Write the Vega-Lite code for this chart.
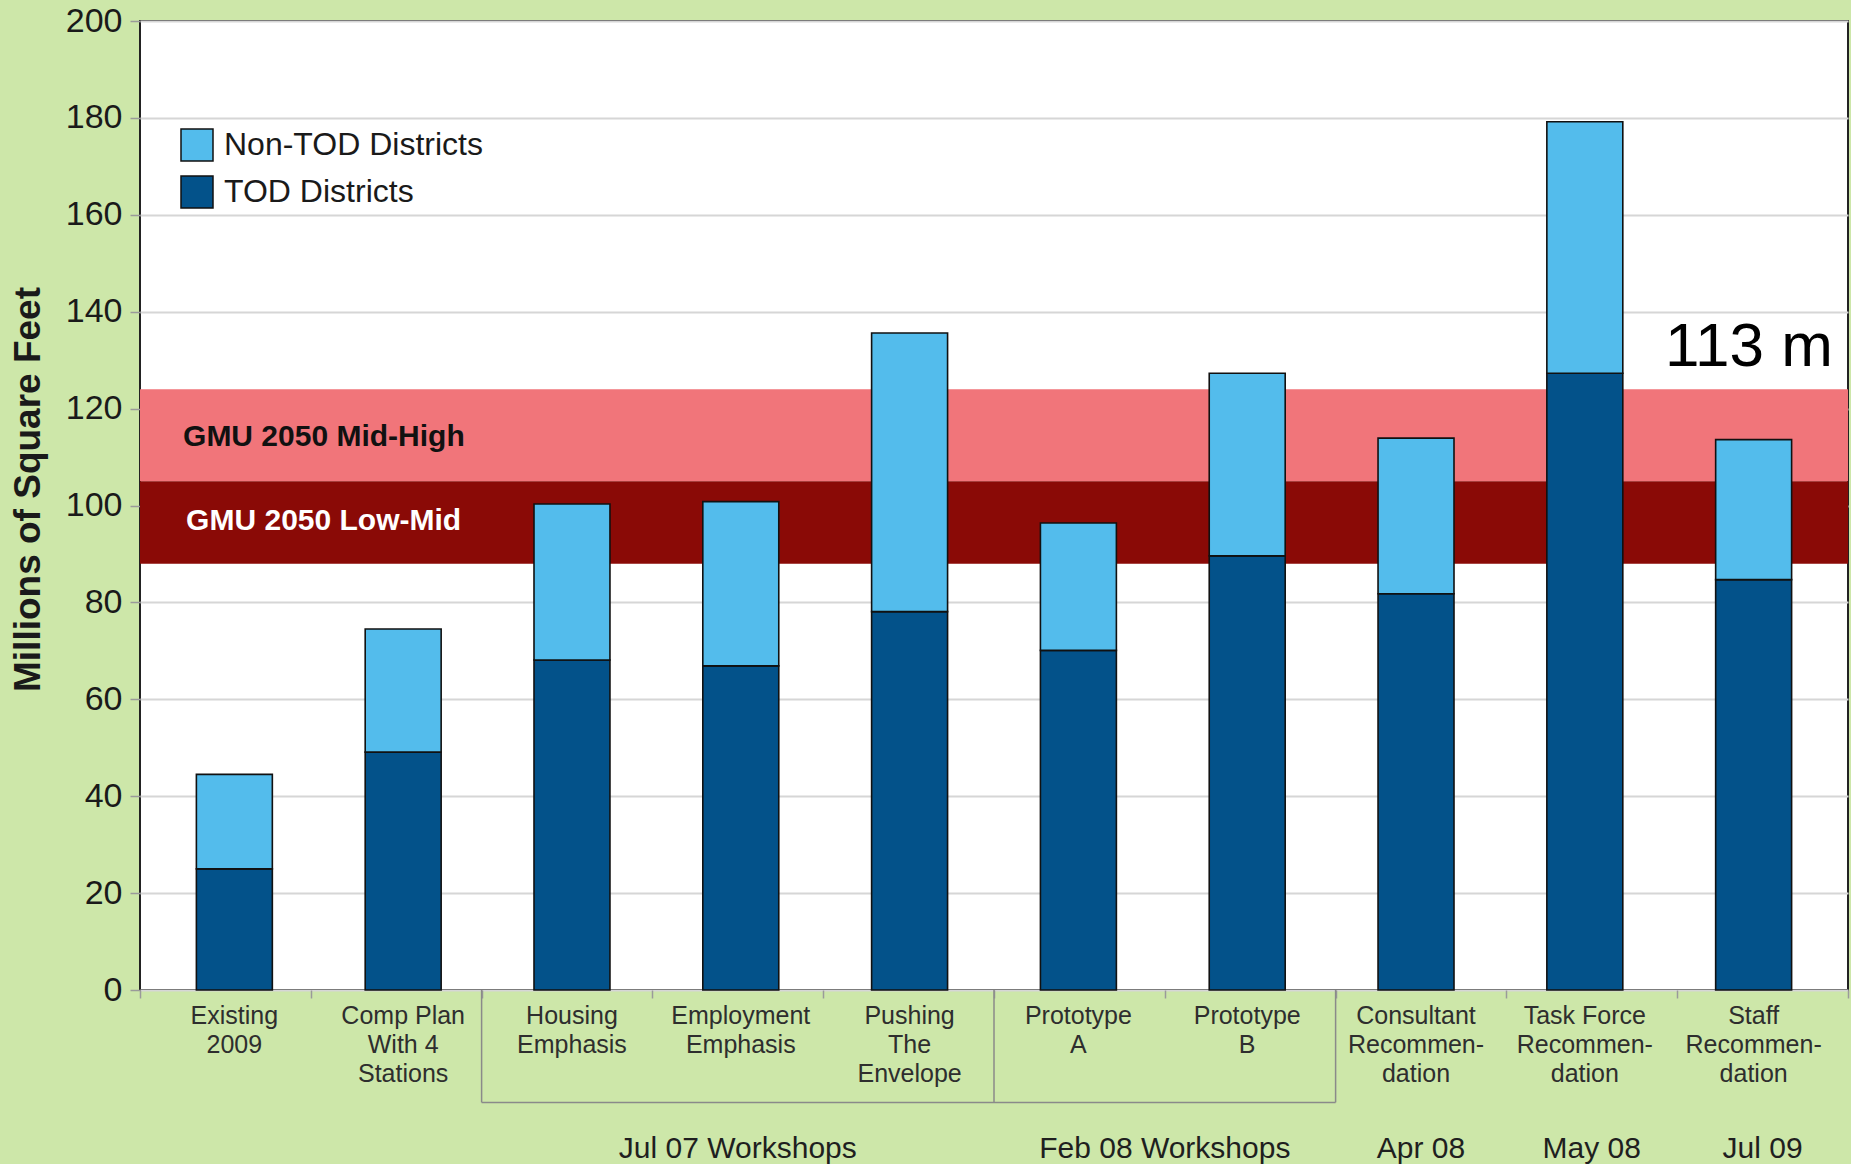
{
  "$schema": "https://vega.github.io/schema/vega-lite/v6.json",
  "width": 1708,
  "height": 969,
  "autosize": {"type": "none"},
  "padding": {"left": 140, "top": 21, "right": 3, "bottom": 174},
  "background": "#cde7a9",
  "config": {
    "font": "Liberation Sans, Arial, sans-serif",
    "view": {"fill": "white", "stroke": "#222222", "strokeWidth": 2},
    "axisY": {
      "grid": true,
      "gridColor": "#d6d6d6",
      "gridWidth": 2,
      "domain": false,
      "tickSize": 10,
      "tickColor": "#9a9a9a",
      "tickWidth": 1.5,
      "labelFontSize": 34,
      "labelColor": "#1a1a1a",
      "labelPadding": 8,
      "titleFontSize": 37,
      "titleFontWeight": "bold",
      "titleColor": "#1a1a1a",
      "titlePadding": 18
    }
  },
  "datasets": {
    "bars": [
      {"cat": "Existing|2009", "series": "TOD Districts", "value": 25.0},
      {"cat": "Existing|2009", "series": "Non-TOD Districts", "value": 19.5},
      {"cat": "Comp Plan|With 4|Stations", "series": "TOD Districts", "value": 49.1},
      {"cat": "Comp Plan|With 4|Stations", "series": "Non-TOD Districts", "value": 25.4},
      {"cat": "Housing|Emphasis", "series": "TOD Districts", "value": 68.1},
      {"cat": "Housing|Emphasis", "series": "Non-TOD Districts", "value": 32.2},
      {"cat": "Employment|Emphasis", "series": "TOD Districts", "value": 66.9},
      {"cat": "Employment|Emphasis", "series": "Non-TOD Districts", "value": 33.9},
      {"cat": "Pushing|The|Envelope", "series": "TOD Districts", "value": 78.1},
      {"cat": "Pushing|The|Envelope", "series": "Non-TOD Districts", "value": 57.5},
      {"cat": "Prototype|A", "series": "TOD Districts", "value": 70.1},
      {"cat": "Prototype|A", "series": "Non-TOD Districts", "value": 26.3},
      {"cat": "Prototype|B", "series": "TOD Districts", "value": 89.6},
      {"cat": "Prototype|B", "series": "Non-TOD Districts", "value": 37.7},
      {"cat": "Consultant|Recommen-|dation", "series": "TOD Districts", "value": 81.8},
      {"cat": "Consultant|Recommen-|dation", "series": "Non-TOD Districts", "value": 32.1},
      {"cat": "Task Force|Recommen-|dation", "series": "TOD Districts", "value": 127.3},
      {"cat": "Task Force|Recommen-|dation", "series": "Non-TOD Districts", "value": 51.9},
      {"cat": "Staff|Recommen-|dation", "series": "TOD Districts", "value": 84.7},
      {"cat": "Staff|Recommen-|dation", "series": "Non-TOD Districts", "value": 28.9}
    ],
    "bands": [
      {"band": "GMU 2050 Mid-High", "lo": 105, "hi": 124},
      {"band": "GMU 2050 Low-Mid", "lo": 88, "hi": 105}
    ],
    "dividers": [
      {"pos": 2},
      {"pos": 5},
      {"pos": 7}
    ],
    "groups": [
      {"label": "Jul 07 Workshops", "pos": 3.5},
      {"label": "Feb 08 Workshops", "pos": 6},
      {"label": "Apr 08", "pos": 7.5},
      {"label": "May 08", "pos": 8.5},
      {"label": "Jul 09", "pos": 9.5}
    ]
  },
  "resolve": {"scale": {"x": "independent"}},
  "layer": [
    {
      "data": {"name": "bands"},
      "layer": [
        {
          "transform": [{"filter": "datum.band === 'GMU 2050 Mid-High'"}],
          "mark": {"type": "rect", "color": "#f1757a"},
          "encoding": {
            "y": {"field": "lo", "type": "quantitative", "scale": {"domain": [0, 200], "nice": false}, "title": "Millions of Square Feet", "axis": {"values": [0, 20, 40, 60, 80, 100, 120, 140, 160, 180, 200], "titleY": 468}},
            "y2": {"field": "hi"}
          }
        },
        {
          "transform": [{"filter": "datum.band === 'GMU 2050 Low-Mid'"}],
          "mark": {"type": "rect", "color": "#8a0a06"},
          "encoding": {
            "y": {"field": "lo", "type": "quantitative", "scale": {"domain": [0, 200], "nice": false}, "title": "Millions of Square Feet", "axis": {"values": [0, 20, 40, 60, 80, 100, 120, 140, 160, 180, 200], "titleY": 468}},
            "y2": {"field": "hi"}
          }
        }
      ]
    },
    {
      "data": {"name": "bars"},
      "mark": {"type": "bar", "stroke": "#111111", "strokeWidth": 1.6},
      "encoding": {
        "x": {
          "field": "cat",
          "type": "nominal",
          "sort": null,
          "scale": {"paddingInner": 0.55, "paddingOuter": 0.334},
          "axis": {
            "orient": "bottom",
            "labelExpr": "split(datum.label, '|')",
            "labelAngle": 0,
            "labelFontSize": 25,
            "labelLineHeight": 29,
            "labelColor": "#2e2e2e",
            "labelBaseline": "top",
            "labelPadding": 13,
            "ticks": false,
            "tickSize": 0,
            "domain": false,
            "grid": false,
            "title": null
          }
        },
        "y": {
          "field": "value",
          "type": "quantitative",
          "stack": "zero",
          "scale": {"domain": [0, 200], "nice": false},
          "title": "Millions of Square Feet",
          "axis": {"values": [0, 20, 40, 60, 80, 100, 120, 140, 160, 180, 200], "titleY": 468}
        },
        "color": {
          "field": "series",
          "type": "nominal",
          "scale": {"domain": ["Non-TOD Districts", "TOD Districts"], "range": ["#53bcec", "#03528a"]},
          "legend": {
            "orient": "none",
            "legendX": 40,
            "legendY": 107,
            "title": null,
            "symbolType": "square",
            "symbolSize": 1024,
            "symbolStrokeColor": "#111111",
            "symbolStrokeWidth": 1.5,
            "symbolOpacity": 1,
            "labelFontSize": 32,
            "labelColor": "#1a1a1a",
            "labelOffset": 10,
            "rowPadding": 9,
            "labelLimit": 400
          }
        },
        "order": {"field": "series", "sort": "descending"}
      }
    },
    {
      "layer": [
        {
          "data": {"name": "dividers"},
          "mark": {"type": "rule", "color": "#8a8a8a", "strokeWidth": 1.5},
          "encoding": {
            "x": {
              "field": "pos",
              "type": "quantitative",
              "scale": {"domain": [0, 10], "nice": false, "zero": false},
              "axis": {"orient": "bottom", "values": [0, 1, 2, 3, 4, 5, 6, 7, 8, 9, 10], "labels": false, "ticks": true, "tickSize": 8, "tickColor": "#9a9a9a", "tickWidth": 1.5, "domain": false, "grid": false, "title": null}
            },
            "y": {"datum": 0, "type": "quantitative", "scale": {"domain": [0, 200], "nice": false}, "title": "Millions of Square Feet", "axis": {"values": [0, 20, 40, 60, 80, 100, 120, 140, 160, 180, 200], "titleY": 468}},
            "y2": {"datum": -23.2}
          }
        },
        {
          "data": {"values": [{"from": 2, "to": 7}]},
          "mark": {"type": "rule", "color": "#8a8a8a", "strokeWidth": 1.5},
          "encoding": {
            "x": {
              "field": "from",
              "type": "quantitative",
              "scale": {"domain": [0, 10], "nice": false, "zero": false},
              "axis": {"orient": "bottom", "values": [0, 1, 2, 3, 4, 5, 6, 7, 8, 9, 10], "labels": false, "ticks": true, "tickSize": 8, "tickColor": "#9a9a9a", "tickWidth": 1.5, "domain": false, "grid": false, "title": null}
            },
            "x2": {"field": "to"},
            "y": {"datum": -23.2, "type": "quantitative", "scale": {"domain": [0, 200], "nice": false}, "title": "Millions of Square Feet", "axis": {"values": [0, 20, 40, 60, 80, 100, 120, 140, 160, 180, 200], "titleY": 468}}
          }
        },
        {
          "data": {"name": "groups"},
          "mark": {"type": "text", "fontSize": 30, "color": "#1f1f1f", "align": "center", "baseline": "alphabetic"},
          "encoding": {
            "x": {
              "field": "pos",
              "type": "quantitative",
              "scale": {"domain": [0, 10], "nice": false, "zero": false},
              "axis": {"orient": "bottom", "values": [0, 1, 2, 3, 4, 5, 6, 7, 8, 9, 10], "labels": false, "ticks": true, "tickSize": 8, "tickColor": "#9a9a9a", "tickWidth": 1.5, "domain": false, "grid": false, "title": null}
            },
            "y": {"datum": -34.7, "type": "quantitative", "scale": {"domain": [0, 200], "nice": false}, "title": "Millions of Square Feet", "axis": {"values": [0, 20, 40, 60, 80, 100, 120, 140, 160, 180, 200], "titleY": 468}},
            "text": {"field": "label"}
          }
        },
        {
          "data": {"values": [{"label": "GMU 2050 Mid-High"}]},
          "mark": {"type": "text", "fontSize": 30, "fontWeight": "bold", "color": "#111111", "align": "left", "baseline": "middle"},
          "encoding": {
            "x": {
              "datum": 0.252,
              "type": "quantitative",
              "scale": {"domain": [0, 10], "nice": false, "zero": false},
              "axis": {"orient": "bottom", "values": [0, 1, 2, 3, 4, 5, 6, 7, 8, 9, 10], "labels": false, "ticks": true, "tickSize": 8, "tickColor": "#9a9a9a", "tickWidth": 1.5, "domain": false, "grid": false, "title": null}
            },
            "y": {"datum": 114.2, "type": "quantitative", "scale": {"domain": [0, 200], "nice": false}, "title": "Millions of Square Feet", "axis": {"values": [0, 20, 40, 60, 80, 100, 120, 140, 160, 180, 200], "titleY": 468}},
            "text": {"field": "label"}
          }
        },
        {
          "data": {"values": [{"label": "GMU 2050 Low-Mid"}]},
          "mark": {"type": "text", "fontSize": 30, "fontWeight": "bold", "color": "#ffffff", "align": "left", "baseline": "middle"},
          "encoding": {
            "x": {
              "datum": 0.27,
              "type": "quantitative",
              "scale": {"domain": [0, 10], "nice": false, "zero": false},
              "axis": {"orient": "bottom", "values": [0, 1, 2, 3, 4, 5, 6, 7, 8, 9, 10], "labels": false, "ticks": true, "tickSize": 8, "tickColor": "#9a9a9a", "tickWidth": 1.5, "domain": false, "grid": false, "title": null}
            },
            "y": {"datum": 96.7, "type": "quantitative", "scale": {"domain": [0, 200], "nice": false}, "title": "Millions of Square Feet", "axis": {"values": [0, 20, 40, 60, 80, 100, 120, 140, 160, 180, 200], "titleY": 468}},
            "text": {"field": "label"}
          }
        },
        {
          "data": {"values": [{"label": "113 m"}]},
          "mark": {"type": "text", "fontSize": 62, "color": "#000000", "align": "center", "baseline": "middle"},
          "encoding": {
            "x": {
              "datum": 9.42,
              "type": "quantitative",
              "scale": {"domain": [0, 10], "nice": false, "zero": false},
              "axis": {"orient": "bottom", "values": [0, 1, 2, 3, 4, 5, 6, 7, 8, 9, 10], "labels": false, "ticks": true, "tickSize": 8, "tickColor": "#9a9a9a", "tickWidth": 1.5, "domain": false, "grid": false, "title": null}
            },
            "y": {"datum": 132.8, "type": "quantitative", "scale": {"domain": [0, 200], "nice": false}, "title": "Millions of Square Feet", "axis": {"values": [0, 20, 40, 60, 80, 100, 120, 140, 160, 180, 200], "titleY": 468}},
            "text": {"field": "label"}
          }
        }
      ]
    }
  ]
}
